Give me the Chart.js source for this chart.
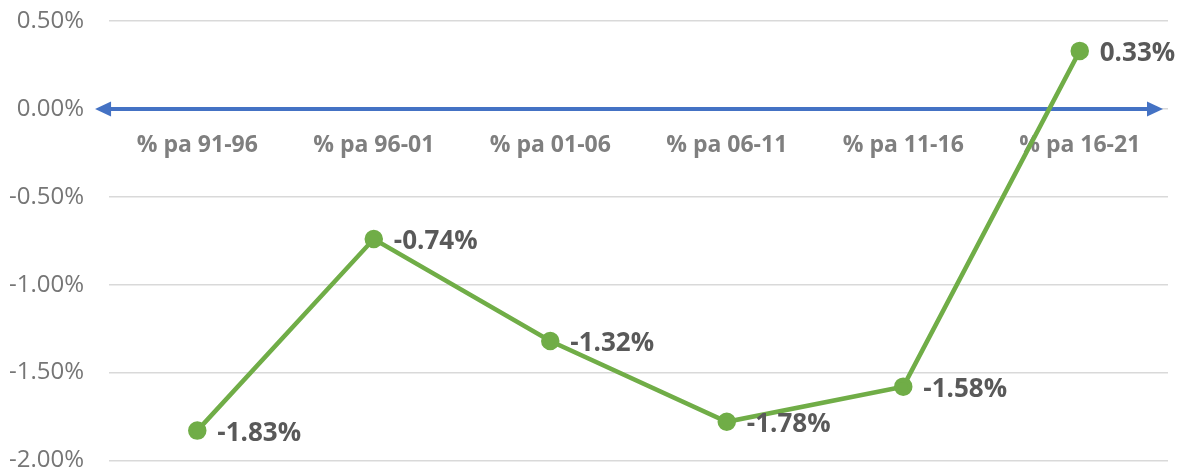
<!DOCTYPE html>
<html>
<head>
<meta charset="utf-8">
<script src="https://cdn.jsdelivr.net/npm/chart.js@4"></script>
<style>
  html, body { margin: 0; padding: 0; background: #fff; }
  #wrap { width: 1183px; height: 472px; }
</style>
</head>
<body>
<div id="wrap"><canvas id="chart"></canvas></div>
<script>
const categories = ["% pa 91-96", "% pa 96-01", "% pa 01-06", "% pa 06-11", "% pa 11-16", "% pa 16-21"];
const values = [-1.83, -0.74, -1.32, -1.78, -1.58, 0.33];
const yTicks = [0.5, 0, -0.5, -1, -1.5, -2];

const FONT = "'Open Sans', 'Liberation Sans', sans-serif";

// blue zero axis with arrows on both ends, category names under it
const zeroArrow = {
  id: "zeroArrow",
  beforeDatasetsDraw(c) {
    const ctx = c.ctx;
    const area = c.chartArea;
    const y = c.scales.y.getPixelForValue(0);
    const x1 = area.left - 14, x2 = area.right - 5;
    ctx.save();
    ctx.strokeStyle = "#4472c4";
    ctx.fillStyle = "#4472c4";
    ctx.lineWidth = 4;
    ctx.beginPath();
    ctx.moveTo(x1 + 10, y);
    ctx.lineTo(x2 - 10, y);
    ctx.stroke();
    ctx.beginPath();
    ctx.moveTo(x1, y);
    ctx.lineTo(x1 + 16, y - 7.5);
    ctx.lineTo(x1 + 16, y + 7.5);
    ctx.closePath();
    ctx.fill();
    ctx.beginPath();
    ctx.moveTo(x2, y);
    ctx.lineTo(x2 - 16, y - 7.5);
    ctx.lineTo(x2 - 16, y + 7.5);
    ctx.closePath();
    ctx.fill();

    ctx.font = "bold 23px " + FONT;
    ctx.fillStyle = "#7f7f7f";
    ctx.textAlign = "center";
    ctx.textBaseline = "middle";
    categories.forEach((name, i) => {
      ctx.fillText(name, c.scales.x.getPixelForValue(i), y + 37);
    });
    ctx.restore();
  }
};

// data labels right of each point
const pointLabels = {
  id: "pointLabels",
  afterDatasetsDraw(c) {
    const ctx = c.ctx;
    const meta = c.getDatasetMeta(0);
    ctx.save();
    ctx.font = "bold 26px " + FONT;
    ctx.fillStyle = "#595959";
    ctx.textAlign = "left";
    ctx.textBaseline = "middle";
    meta.data.forEach((pt, i) => {
      ctx.fillText(values[i].toFixed(2) + "%", pt.x + 20, pt.y + 3);
    });
    ctx.restore();
  }
};

new Chart(document.getElementById("chart"), {
  type: "line",
  data: {
    labels: categories,
    datasets: [{
      data: values,
      borderColor: "#70ad47",
      backgroundColor: "#70ad47",
      borderWidth: 4.5,
      pointRadius: 7,
      pointHoverRadius: 7,
      tension: 0
    }]
  },
  options: {
    responsive: true,
    maintainAspectRatio: false,
    animation: false,
    layout: { padding: { left: 9, right: 15, top: 21, bottom: 11 } },
    plugins: {
      legend: { display: false },
      tooltip: { enabled: false }
    },
    scales: {
      x: {
        display: false,
        offset: true
      },
      y: {
        min: -2,
        max: 0.5,
        afterBuildTicks(s) { s.ticks = yTicks.map(v => ({ value: v })); },
        grid: {
          color: "#d9d9d9",
          lineWidth: 1.5,
          drawTicks: true,
          tickLength: 25,
          tickColor: "rgba(0,0,0,0)"
        },
        border: { display: false },
        ticks: {
          padding: 0,
          color: "#767676",
          font: { family: FONT, size: 24, lineHeight: 0.8 },
          callback: v => v.toFixed(2) + "%"
        }
      }
    }
  },
  plugins: [zeroArrow, pointLabels]
});
</script>
</body>
</html>
